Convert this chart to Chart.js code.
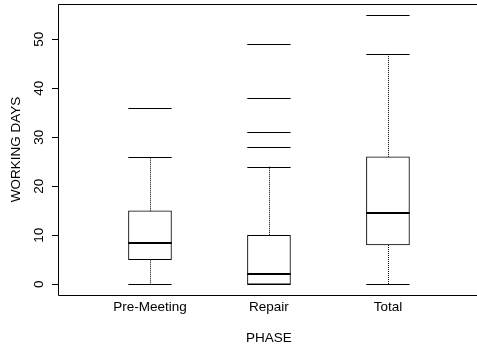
<!DOCTYPE html>
<html>
<head>
<meta charset="utf-8">
<script src="https://cdn.jsdelivr.net/npm/chart.js@4/dist/chart.umd.min.js"></script>
<style>
  body { margin: 0; background: #fff; }
  #wrap { width: 477px; height: 350px; position: relative; }
</style>
</head>
<body>
<div id="wrap"><canvas id="phase-boxplot"></canvas></div>
<script>
  // boxplot summaries
  const categories = ['Pre-Meeting', 'Repair', 'Total'];
  const whiskerLow = [0, 0, 0];
  const q1 = [5, 0, 8];
  const median = [8.5, 2, 14.5];
  const q3 = [15, 10, 26];
  const whiskerHigh = [26, 24, 47];
  const outliers = [[36], [49, 38, 31, 28], [55]];
  const yTicks = [0, 10, 20, 30, 40, 50];

  const FONT = '13.5px "Liberation Sans", Arial, sans-serif';
  const BOX_HALF = 0.182; // half box width in x units

  function px(v) { return Math.round(v) + 0.5; }

  // draws medians, whiskers, outliers, frame and axis text in R style
  const rBoxplot = {
    id: 'rBoxplot',
    afterDatasetsDraw(chart) {
      const ctx = chart.ctx;
      const x = chart.scales.x, y = chart.scales.y;
      ctx.save();
      ctx.strokeStyle = '#000';
      categories.forEach((c, i) => {
        const cx = x.getPixelForValue(i + 1);
        const left = x.getPixelForValue(i + 1 - BOX_HALF);
        const right = x.getPixelForValue(i + 1 + BOX_HALF);

        // whiskers (dotted)
        ctx.lineWidth = 1;
        ctx.setLineDash([1, 1]);
        ctx.beginPath();
        ctx.moveTo(px(cx), y.getPixelForValue(q3[i]));
        ctx.lineTo(px(cx), y.getPixelForValue(whiskerHigh[i]));
        ctx.moveTo(px(cx), y.getPixelForValue(q1[i]));
        ctx.lineTo(px(cx), y.getPixelForValue(whiskerLow[i]));
        ctx.stroke();
        ctx.setLineDash([]);

        // staples and outliers as horizontal strokes
        const marks = [whiskerHigh[i], whiskerLow[i]].concat(outliers[i]);
        ctx.beginPath();
        marks.forEach(v => {
          const yy = px(y.getPixelForValue(v));
          ctx.moveTo(left, yy);
          ctx.lineTo(right, yy);
        });
        ctx.stroke();

        // median
        ctx.lineWidth = 2;
        ctx.beginPath();
        const my = Math.round(y.getPixelForValue(median[i]));
        ctx.moveTo(left, my);
        ctx.lineTo(right, my);
        ctx.stroke();
      });
      ctx.restore();
    },
    afterDraw(chart) {
      const ctx = chart.ctx;
      const area = chart.chartArea;
      const x = chart.scales.x, y = chart.scales.y;
      ctx.save();
      ctx.strokeStyle = '#000';
      ctx.lineWidth = 1;

      // frame (right side falls outside the picture)
      ctx.beginPath();
      ctx.moveTo(area.right + 2, px(area.top));
      ctx.lineTo(px(area.left), px(area.top));
      ctx.lineTo(px(area.left), px(area.bottom));
      ctx.lineTo(area.right + 2, px(area.bottom));
      ctx.stroke();

      // y ticks
      ctx.beginPath();
      yTicks.forEach(t => {
        const yy = px(y.getPixelForValue(t));
        ctx.moveTo(area.left - 6, yy);
        ctx.lineTo(area.left, yy);
      });
      ctx.stroke();

      ctx.fillStyle = '#000';
      ctx.font = FONT;
      ctx.textAlign = 'center';
      ctx.textBaseline = 'middle';

      // rotated y tick labels
      yTicks.forEach(t => {
        ctx.save();
        ctx.translate(39.5, y.getPixelForValue(t));
        ctx.rotate(-Math.PI / 2);
        ctx.fillText(String(t), 0, 0);
        ctx.restore();
      });

      // y title
      ctx.save();
      ctx.translate(16, (area.top + area.bottom) / 2);
      ctx.rotate(-Math.PI / 2);
      ctx.fillText('WORKING DAYS', 0, 0);
      ctx.restore();

      // category labels
      categories.forEach((c, i) => {
        ctx.fillText(c, x.getPixelForValue(i + 1), 307);
      });

      // x title
      ctx.fillText('PHASE', x.getPixelForValue(2), 338);
      ctx.restore();
    }
  };

  new Chart(document.getElementById('phase-boxplot'), {
    type: 'bar',
    data: {
      datasets: [{
        data: categories.map((c, i) => ({ x: i + 1, y: [q1[i], q3[i]] })),
        backgroundColor: '#fff',
        borderColor: '#000',
        borderWidth: 1,
        borderSkipped: false,
        barThickness: 43
      }]
    },
    options: {
      responsive: true,
      maintainAspectRatio: false,
      animation: false,
      layout: { padding: { left: 58, top: 4, right: 1, bottom: 55 } },
      plugins: { legend: { display: false }, tooltip: { enabled: false } },
      scales: {
        x: { type: 'linear', offset: false, min: 0.227, max: 3.74, display: false },
        y: { min: -2.2, max: 57.2, display: false }
      }
    },
    plugins: [rBoxplot]
  });
</script>
</body>
</html>
